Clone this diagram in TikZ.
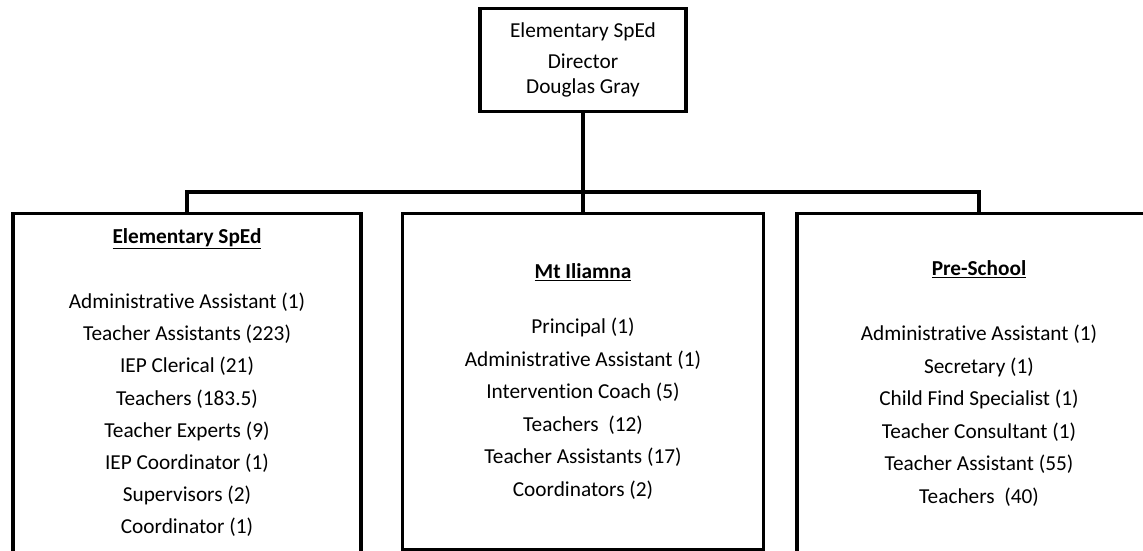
\documentclass[tikz,border=0pt]{standalone}
\usepackage{fontspec}
\setmainfont{Carlito}[Ligatures=NoCommon]
\begin{document}
\begin{tikzpicture}[x=1pt,y=-1pt,
  box/.style={draw,line width=3.4pt,rectangle,inner sep=0pt,anchor=north},
  txt/.style={inner sep=0pt,font=\fontsize{21.3}{25}\selectfont,text height=0.75em,text depth=0.25em},
  head/.style={txt,font=\fontsize{21.3}{25}\selectfont\bfseries},
  link/.style={line width=3.4pt}]
\useasboundingbox (0,0) rectangle (1143,550);
\clip (0,0) rectangle (1143,550);
% boxes
\node[box,minimum width=206pt,minimum height=103pt] (dir) at (583,7) {};
\node[box,minimum width=348pt,minimum height=350pt] (left) at (187,212) {};
\node[box,minimum width=361pt,minimum height=336pt] (mid) at (583,212) {};
\node[box,minimum width=364pt,minimum height=350pt] (right) at (979,212) {};
% connectors
\coordinate (bus) at (583,192);
\draw[link] (dir.south) -- (bus);
\draw[link] (left.north) |- (bus) -| (right.north);
\draw[link] (bus) -- (mid.north);
% director text
\node[txt] (d1) at (583,35) {Elementary SpEd};
\node[txt] (d2) at (583,66) {Director};
\node[txt] (d3) at (583,91) {Douglas Gray};
% left
\node[head] (lh) at (187,241) {\underline{Elementary SpEd}};
\foreach \t [count=\i] in {Administrative Assistant (1),Teacher Assistants (223),IEP Clerical (21),Teachers (183.5),Teacher Experts (9),IEP Coordinator (1),Supervisors (2),Coordinator (1)}
  \node[txt] (L\i) at (187,{306+32.2*(\i-1)}) {\t};
% middle
\node[head] (mh) at (583,276) {\underline{Mt Iliamna}};
\foreach \t [count=\i] in {Principal (1),Administrative Assistant (1),Intervention Coach (5),Teachers\ \ (12),Teacher Assistants (17),Coordinators (2)}
  \node[txt] (M\i) at (583,{331+32.5*(\i-1)}) {\t};
% right
\node[head] (rh) at (979,273) {\underline{Pre-School}};
\foreach \t [count=\i] in {Administrative Assistant (1),Secretary (1),Child Find Specialist (1),Teacher Consultant (1),Teacher Assistant (55),Teachers\ \ (40)}
  \node[txt] (R\i) at (979,{338+32.6*(\i-1)}) {\t};
\end{tikzpicture}
\end{document}
